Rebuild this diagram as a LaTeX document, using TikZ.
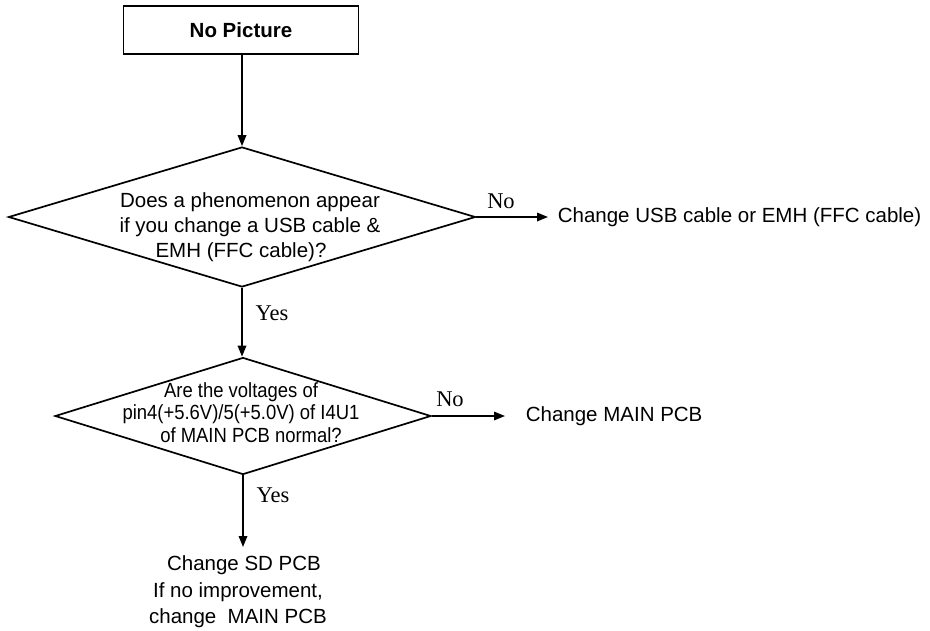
\documentclass[tikz,border=0pt]{standalone}
\usepackage{fontspec}
\setmainfont{Liberation Sans}
\newfontfamily\narrowsans[FakeStretch=0.9]{Liberation Sans}
\newfontfamily\timesfont{Liberation Serif}
\usetikzlibrary{shapes.geometric,arrows.meta}
\begin{document}
\begin{tikzpicture}[x=1pt,y=-1pt,
  line width=1.7pt,
  startbox/.style={draw,minimum width=235pt,minimum height=48pt,inner sep=0pt,font=\fontsize{20.5}{24}\selectfont\bfseries},
  decision/.style={draw,diamond,inner sep=0pt},
  qtext/.style={align=center,inner sep=0pt,font=\fontsize{20.5}{25}\selectfont},
  qtextb/.style={align=center,inner sep=0pt,font=\fontsize{20.5}{22.5}\narrowsans},
  result/.style={inner sep=0pt,font=\fontsize{20.5}{26.5}\selectfont},
  yn/.style={inner sep=0pt,font=\fontsize{22.5}{27}\timesfont},
  arr/.style={-{Triangle[length=11pt,width=8.5pt]}}]
\useasboundingbox (0,0) rectangle (930,630);
\node[startbox] (start) at (241,30) {No Picture};
\node[decision,minimum width=467pt,minimum height=140pt] (d1) at (242,217) {};
\node[qtext] (q1) at (250,227.5) {Does a phenomenon appear\\if you change a USB cable \&\\EMH (FFC cable)?\hspace*{18pt}};
\node[decision,minimum width=376pt,minimum height=117pt] (d2) at (243,416) {};
\node[qtextb] (q2) at (241,412.5) {Are the voltages of\\pin4(+5.6V)/5(+5.0V) of I4U1\\\hspace*{20pt}of MAIN PCB normal?};
\node[result,anchor=west] (r1) at (557,217) {Change USB cable or EMH (FFC cable)};
\node[result,anchor=west] (r2) at (525,416) {Change MAIN PCB};
\node[result,anchor=north,align=center] (r3) at (238,555) {\hspace*{12pt}Change SD PCB\\If no improvement,\\change\ \ MAIN PCB};
\coordinate (e3) at (243,547);
\node[yn] (no1) at (501,201) {No};
\node[yn] (yes1) at (272,313) {Yes};
\node[yn] (no2) at (450,399) {No};
\node[yn] (yes2) at (273,495) {Yes};
\draw[arr] (start.south -| d1.north) -- (d1.north);
\draw[arr] (d1.south) -- (d1.south |- d2.north);
\draw[arr] (d1.east) -- ([xshift=-9pt]r1.west);
\draw[arr] (d2.east) -- ([xshift=-20pt]r2.west);
\draw[arr] (d2.south) -- (e3);
\end{tikzpicture}
\end{document}
